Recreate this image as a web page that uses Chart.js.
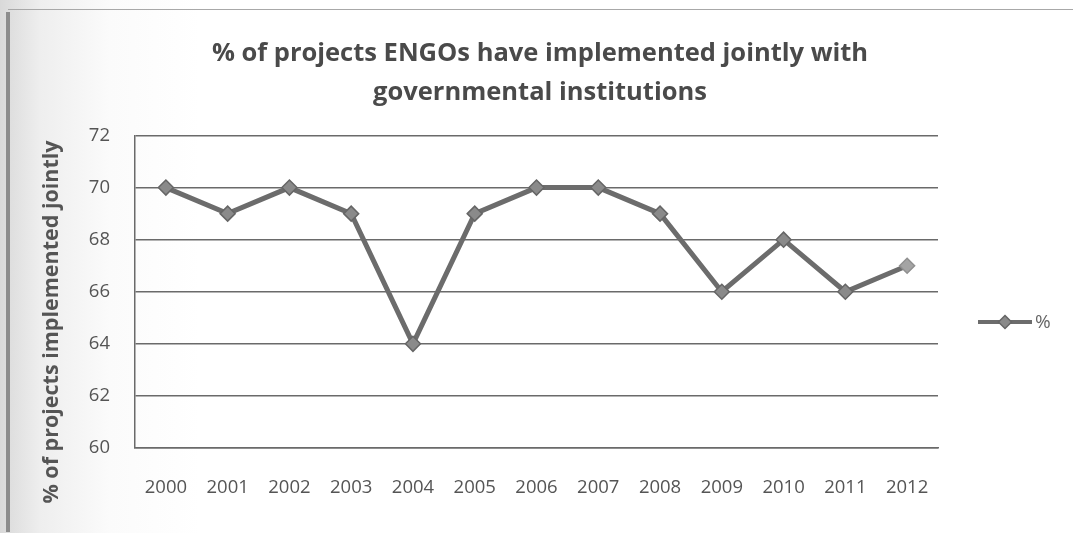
<!DOCTYPE html>
<html>
<head>
<meta charset="utf-8">
<script src="https://cdn.jsdelivr.net/npm/chart.js@4.4.1/dist/chart.umd.min.js"></script>
<style>
  html, body { margin: 0; padding: 0; background: #ffffff; }
  #wrap { position: relative; width: 1073px; height: 533px; overflow: hidden;
    background: linear-gradient(to right, #d9d9d9 0px, #eeeeee 40px, #fbfbfb 110px, #ffffff 200px); }
  #edgeL { position: absolute; left: 6px; top: 12px; width: 4px; height: 520px; background: #8c8c8c; }
  #edgeT { position: absolute; left: 8px; top: 9px; width: 1065px; height: 1px; background: #a8a8a8; }
  canvas { position: absolute; left: 0; top: 0; }
</style>
</head>
<body>
<div id="wrap">
  <div id="edgeL"></div>
  <div id="edgeT"></div>
  <canvas id="c" width="1073" height="533"></canvas>
</div>
<script>
const years = ["2000","2001","2002","2003","2004","2005","2006","2007","2008","2009","2010","2011","2012"];
const percentJoint = [70, 69, 70, 69, 64, 69, 70, 70, 69, 66, 68, 66, 67];
const yTicks = [60, 62, 64, 66, 68, 70, 72];
const titleLines = ["% of projects ENGOs have implemented jointly with", "governmental institutions"];
const yTitle = "% of projects implemented jointly";
const seriesName = "%";

const FONT = "'Open Sans', 'DejaVu Sans', sans-serif";
const lineColor = "#6c6c6c";
const markerFill = percentJoint.map((v, i) => i === percentJoint.length - 1 ? "#a4a4a4" : "#8a8a8a");
const markerBorder = percentJoint.map((v, i) => i === percentJoint.length - 1 ? "#909090" : "#666666");

const customText = {
  id: "customText",
  afterDraw(chart) {
    const ctx = chart.ctx;
    // y axis title
    ctx.save();
    ctx.translate(52, 322);
    ctx.rotate(-Math.PI / 2);
    ctx.font = "bold 21.5px " + FONT;
    ctx.fillStyle = "#555555";
    ctx.textAlign = "center";
    ctx.textBaseline = "middle";
    ctx.fillText(yTitle, 0, 0);
    ctx.restore();
    // legend
    const ly = 322;
    ctx.save();
    ctx.strokeStyle = lineColor;
    ctx.lineWidth = 4;
    ctx.beginPath();
    ctx.moveTo(978, ly);
    ctx.lineTo(1032, ly);
    ctx.stroke();
    ctx.fillStyle = "#8a8a8a";
    ctx.strokeStyle = "#666666";
    ctx.lineWidth = 1.5;
    ctx.beginPath();
    ctx.moveTo(1005, ly - 6.5);
    ctx.lineTo(1011.5, ly);
    ctx.lineTo(1005, ly + 6.5);
    ctx.lineTo(998.5, ly);
    ctx.closePath();
    ctx.fill();
    ctx.stroke();
    ctx.font = "19px " + FONT;
    ctx.fillStyle = "#666666";
    ctx.textAlign = "left";
    ctx.textBaseline = "middle";
    ctx.fillText(seriesName, 1035, ly + 1);
    ctx.restore();
  }
};

new Chart(document.getElementById("c"), {
  type: "line",
  data: {
    labels: years,
    datasets: [{
      label: seriesName,
      data: percentJoint,
      borderColor: lineColor,
      borderWidth: 5,
      pointStyle: "rectRot",
      pointRadius: 7.5,
      pointBackgroundColor: markerFill,
      pointBorderColor: markerBorder,
      pointBorderWidth: 1.5,
      tension: 0,
      fill: false
    }]
  },
  options: {
    responsive: false,
    animation: false,
    devicePixelRatio: 1,
    layout: { padding: { left: 7, right: 0, top: 0, bottom: 0 } },
    plugins: {
      legend: { display: false },
      tooltip: { enabled: false },
      title: {
        display: true,
        text: titleLines,
        color: "#4a4a4a",
        font: { family: FONT, size: 25.5, weight: "bold", lineHeight: 1.5 },
        padding: { top: 35, bottom: 24 }
      }
    },
    scales: {
      x: {
        offset: true,
        grid: { display: false, drawTicks: false },
        border: { display: true, color: "#6a6a6a", width: 1.5 },
        ticks: { color: "#555555", font: { family: FONT, size: 18.5 }, padding: 29, maxRotation: 0, autoSkip: false },
        afterFit(scale) { scale.height = 85; }
      },
      y: {
        min: 60,
        max: 72,
        afterBuildTicks(scale) { scale.ticks = yTicks.map(v => ({ value: v })); },
        grid: { color: "#6a6a6a", lineWidth: 1.5, drawTicks: false },
        border: { display: true, color: "#6a6a6a", width: 1.5 },
        ticks: { color: "#555555", font: { family: FONT, size: 18.5 }, padding: 25 },
        afterFit(scale) { scale.width = 128; }
      },
      yRightSpace: {
        type: "linear",
        position: "right",
        display: true,
        grid: { display: false, drawTicks: false },
        border: { display: false },
        ticks: { display: false },
        afterFit(scale) { scale.width = 135; }
      }
    }
  },
  plugins: [customText]
});
</script>
</body>
</html>
